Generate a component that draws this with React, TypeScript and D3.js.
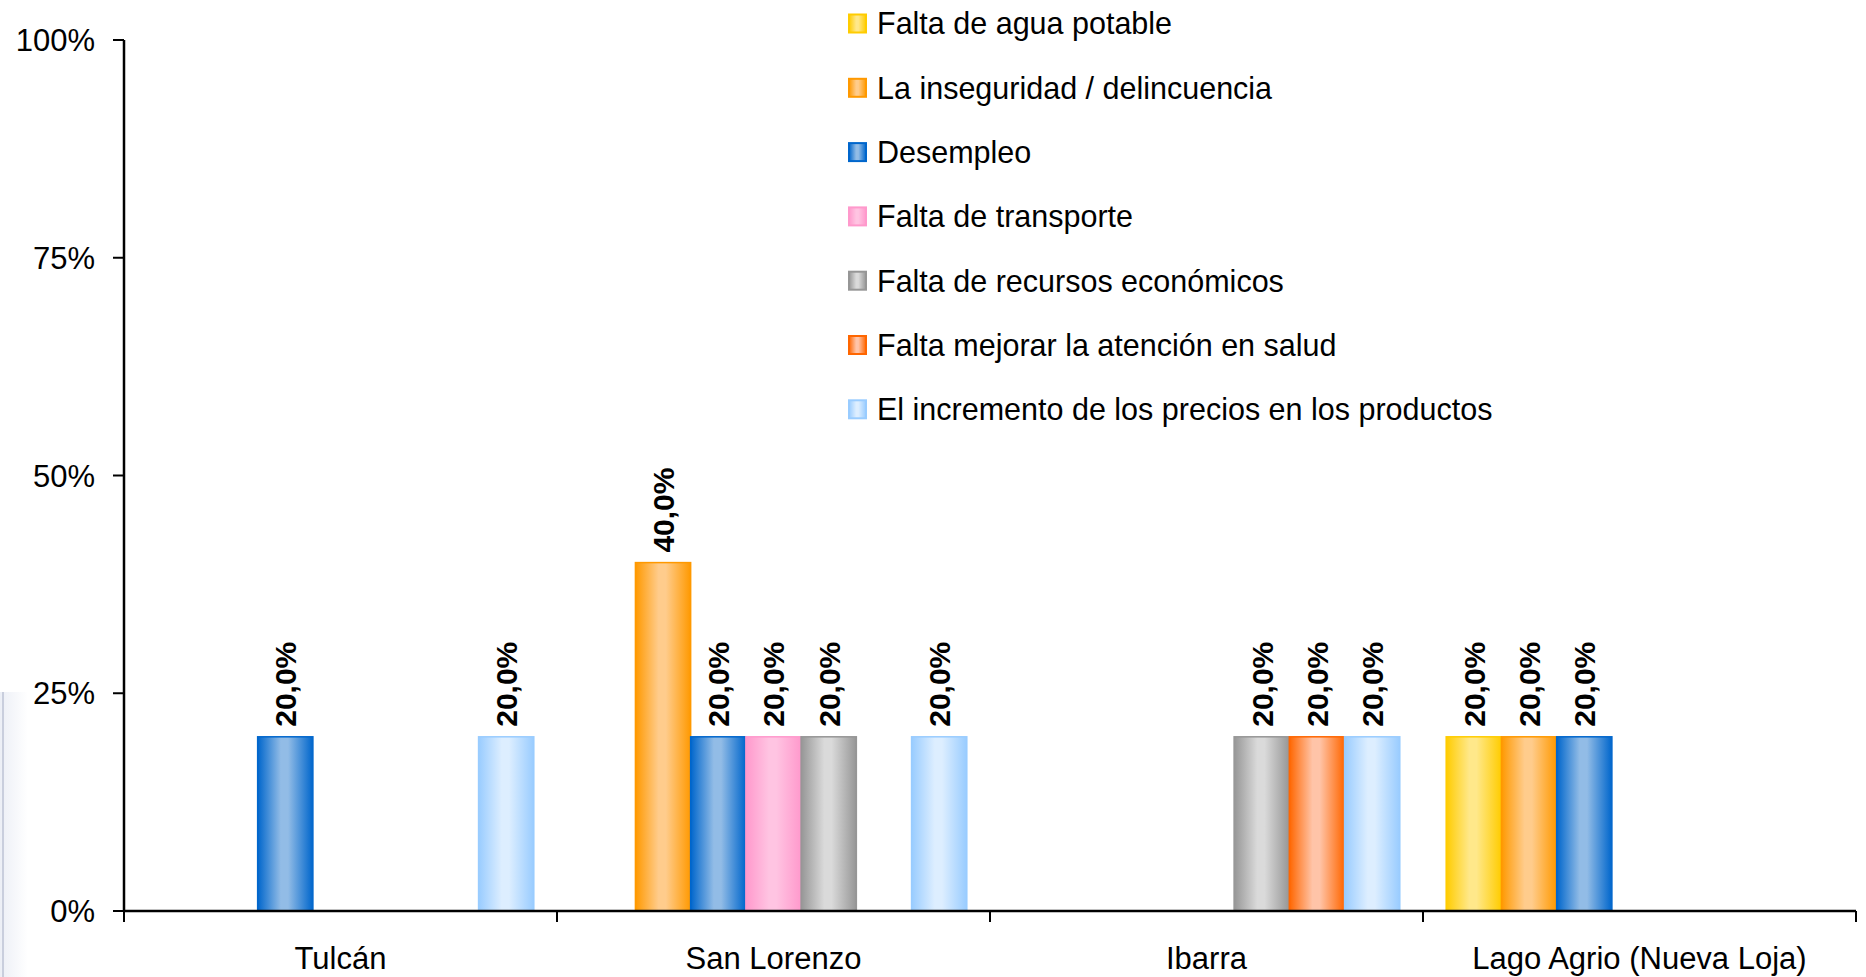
import React from "react";
import * as d3 from "d3";

const cities = ["Tulcán", "San Lorenzo", "Ibarra", "Lago Agrio (Nueva Loja)"];
const seriesNames = [
  "Falta de agua potable",
  "La inseguridad / delincuencia",
  "Desempleo",
  "Falta de transporte",
  "Falta de recursos económicos",
  "Falta mejorar la atención en salud",
  "El incremento de los precios en los productos",
];
const aguaValues = [0, 0, 0, 20];
const inseguridadValues = [0, 40, 0, 20];
const desempleoValues = [20, 20, 0, 20];
const transporteValues = [0, 20, 0, 0];
const recursosValues = [0, 20, 20, 0];
const saludValues = [0, 0, 20, 0];
const preciosValues = [20, 20, 20, 0];
const allValues = [
  aguaValues,
  inseguridadValues,
  desempleoValues,
  transporteValues,
  recursosValues,
  saludValues,
  preciosValues,
];
const yTicks = [0, 25, 50, 75, 100];

const edgeColors = ["#FFCC00", "#FF9900", "#0066CC", "#FF99CC", "#969696", "#FF6600", "#99CCFF"];
const centerColors = ["#FFE88A", "#FFCC8C", "#92BCE6", "#FFC4E2", "#DADADA", "#FFC4A8", "#DDEEFF"];

const W = 1866;
const H = 977;
const left = 124;
const right = 1856;
const yBase = 911;
const yTop = 40;
const FONT = "'Liberation Sans', Arial, Helvetica, sans-serif";

export default function App() {
  const x0 = d3.scaleBand<string>().domain(cities).range([left, right]).paddingInner(0).paddingOuter(0);
  const x1 = d3
    .scaleBand<string>()
    .domain(seriesNames)
    .range([0, x0.bandwidth()])
    .paddingInner(0)
    .paddingOuter(0.42);
  const y = d3.scaleLinear().domain([0, 100]).range([yBase, yTop]);

  const bars: any[] = [];
  seriesNames.forEach((s, si) => {
    allValues[si].forEach((v, ci) => {
      if (v > 0) bars.push({ s, si, ci, v });
    });
  });

  const catEdges = cities.map((c) => x0(c) as number).concat([right]);

  return (
    <svg
      width={W}
      height={H}
      style={{ position: "absolute", left: 0, top: 0, display: "block", background: "#fff" }}
    >
      <defs>
        {seriesNames.map((s, i) => (
          <linearGradient id={`g${i}`} key={s} x1="0" x2="1" y1="0" y2="0">
            <stop offset="0" stopColor={edgeColors[i]} />
            <stop offset="0.42" stopColor={centerColors[i]} />
            <stop offset="0.55" stopColor={centerColors[i]} />
            <stop offset="1" stopColor={edgeColors[i]} />
          </linearGradient>
        ))}
        <linearGradient id="edgeArt" x1="0" x2="1" y1="0" y2="0">
          <stop offset="0" stopColor="#e4e8f2" />
          <stop offset="1" stopColor="#ffffff" />
        </linearGradient>
      </defs>
      <rect x={0} y={0} width={W} height={H} fill="#fff" />
      {/* faint artifact at left edge */}
      <rect x={0} y={692} width={28} height={H - 692} fill="url(#edgeArt)" opacity={0.7} />
      <line x1={3} x2={3} y1={692} y2={H} stroke="#c9cedd" strokeWidth={2} />

      {/* bars */}
      {bars.map((b) => {
        const bx = (x0(cities[b.ci]) as number) + (x1(b.s) as number);
        const bw = x1.bandwidth();
        const by = y(b.v);
        return (
          <g key={`${b.si}-${b.ci}`}>
            <rect
              x={bx}
              y={by}
              width={bw}
              height={yBase - by}
              fill={`url(#g${b.si})`}
              stroke={edgeColors[b.si]}
              strokeWidth={1.5}
            />
            <text
              transform={`translate(${bx + bw / 2},${by - 10}) rotate(-90)`}
              dy="0.36em"
              fontFamily={FONT}
              fontWeight="bold"
              fontSize={30}
              fill="#000"
            >
              {d3.format(".1f")(b.v).replace(".", ",") + "%"}
            </text>
          </g>
        );
      })}

      {/* y axis */}
      <line x1={left} x2={left} y1={yTop} y2={yBase} stroke="#000" strokeWidth={2.5} />
      {yTicks.map((t) => (
        <g key={t}>
          <line x1={left - 11} x2={left} y1={y(t)} y2={y(t)} stroke="#000" strokeWidth={2} />
          <text
            x={95}
            y={y(t)}
            dy="0.36em"
            textAnchor="end"
            fontFamily={FONT}
            fontSize={31}
            fill="#000"
          >
            {t + "%"}
          </text>
        </g>
      ))}

      {/* x axis */}
      <line x1={left} x2={right} y1={yBase} y2={yBase} stroke="#000" strokeWidth={2.5} />
      {catEdges.map((e, i) => (
        <line key={i} x1={e} x2={e} y1={yBase} y2={yBase + 11} stroke="#000" strokeWidth={2} />
      ))}
      {cities.map((c) => (
        <text
          key={c}
          x={(x0(c) as number) + x0.bandwidth() / 2}
          y={969}
          textAnchor="middle"
          fontFamily={FONT}
          fontSize={31}
          fill="#000"
        >
          {c}
        </text>
      ))}

      {/* legend */}
      {seriesNames.map((s, i) => {
        const cy = 23.5 + i * 64.3;
        return (
          <g key={s}>
            <rect
              x={849}
              y={cy - 9}
              width={17}
              height={18}
              fill={`url(#g${i})`}
              stroke={edgeColors[i]}
              strokeWidth={2}
            />
            <text x={877} y={cy} dy="0.36em" fontFamily={FONT} fontSize={30.5} fill="#000">
              {s}
            </text>
          </g>
        );
      })}
    </svg>
  );
}
